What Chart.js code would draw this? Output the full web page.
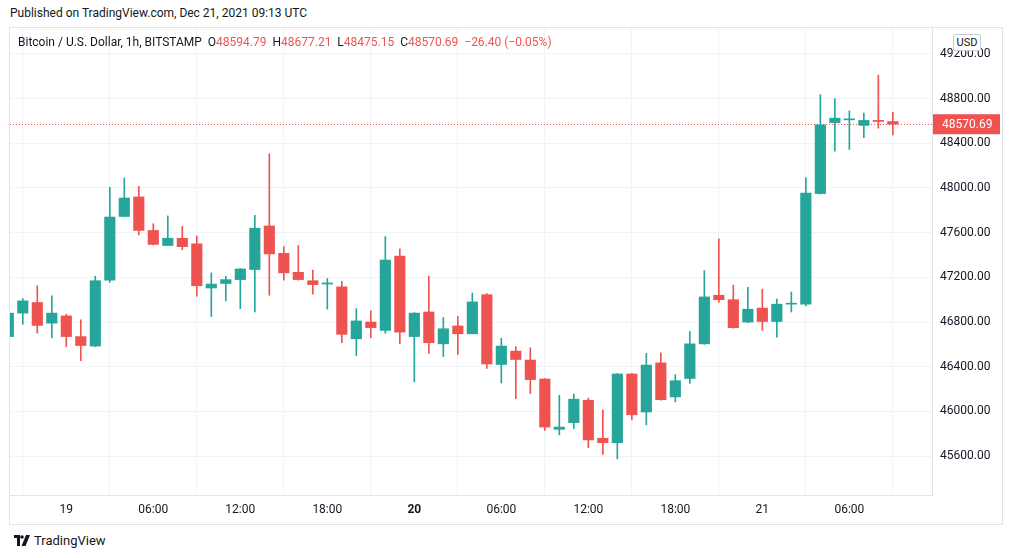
<!DOCTYPE html>
<html>
<head>
<meta charset="utf-8">
<script src="https://cdn.jsdelivr.net/npm/chart.js@4.4.0/dist/chart.umd.min.js"></script>
<style>
  body { margin: 0; background: #fff; width: 1012px; height: 558px; position: relative; overflow: hidden;
         font-family: Roboto, 'Liberation Sans', sans-serif; color: #131722; }
  #published { position: absolute; left: 10px; top: 6px; font-size: 12px; }
  #pane { position: absolute; left: 9px; top: 27px; width: 992px; height: 496px; border: 1px solid #e0e3eb; }
  #legend { position: absolute; left: 18px; top: 35px; font-size: 12px; white-space: pre; }
  #legend .v { color: #ef5350; }
  #usd { position: absolute; left: 953px; top: 34px; width: 26px; height: 15px; border: 1px solid #c9ccd4;
         background: #fff; font-size: 11px; line-height: 15px; text-align: center; border-radius: 2px; }
  #brand { position: absolute; left: 14px; top: 533px; font-size: 13px; display: flex; align-items: center; }
  #brand svg { margin-right: 4px; }
</style>
</head>
<body>
<div id="published">Published on TradingView.com, Dec 21, 2021 09:13 UTC</div>
<div id="pane"><canvas id="chart"></canvas></div>
<div id="legend">Bitcoin / U.S. Dollar, 1h, BITSTAMP  O<span class="v">48594.79</span>  H<span class="v">48677.21</span>  L<span class="v">48475.15</span>  C<span class="v">48570.69</span>  <span class="v">−26.40 (−0.05%)</span></div>
<div id="usd">USD</div>
<div id="brand">
  <svg width="16" height="11" viewBox="0 0 16 11"><path d="M0 0h6v11H3V3H0z" fill="#131722"/><circle cx="8" cy="2" r="1.8" fill="#131722"/><path d="M12 0h4l-4.5 11H7.5z" fill="#131722"/></svg>
  <span>TradingView</span>
</div>
<script>
// hourly candles, Dec 18 20:00 -> Dec 21 09:00 (BITSTAMP BTC/USD)
const opens = [46670, 46880, 46975, 46790, 46855, 46670, 46585, 47175, 47745, 47920,
  47620, 47485, 47550, 47500, 47105, 47145, 47180, 47270, 47660, 47415,
  47245, 47170, 47140, 47115, 46650, 46800, 46725, 47390, 46670, 46890,
  46605, 46765, 46695, 47045, 46420, 46540, 46460, 46290, 45840, 45900,
  46100, 45760, 45720, 46335, 45995, 46435, 46130, 46295, 46605, 47040,
  47000, 46800, 46925, 46805, 46960, 46960, 47950, 48585, 48610, 48560,
  48605, 48594.79];
const highs = [46890, 47010, 47125, 47035, 46870, 46820, 47210, 48005, 48090, 48015,
  47680, 47750, 47657, 47570, 47240, 47210, 47280, 47755, 48305, 47475,
  47485, 47265, 47190, 47165, 46920, 46900, 47565, 47455, 46885, 47210,
  46840, 46850, 47060, 47055, 46655, 46580, 46570, 46295, 46145, 46155,
  46120, 46015, 46340, 46340, 46520, 46525, 46330, 46715, 47260, 47545,
  47130, 47110, 47095, 47005, 47069, 48090, 48835, 48800, 48690, 48670,
  49010, 48677.21];
const lows = [46660, 46780, 46700, 46660, 46580, 46455, 46580, 47155, 47745, 47580,
  47490, 47485, 47448, 47031, 46850, 46990, 46920, 46890, 47040, 47175,
  47175, 47050, 46915, 46615, 46500, 46660, 46700, 46605, 46265, 46520,
  46490, 46510, 46695, 46385, 46255, 46115, 46160, 45830, 45790, 45845,
  45675, 45615, 45575, 45925, 45880, 46100, 46085, 46250, 46600, 46975,
  46745, 46795, 46725, 46665, 46890, 46945, 47945, 48330, 48345, 48450,
  48535, 48475.15];
const closes = [46880, 46990, 46770, 46880, 46670, 46590, 47170, 47740, 47910, 47620,
  47495, 47550, 47475, 47125, 47140, 47180, 47275, 47640, 47410, 47240,
  47180, 47135, 47150, 46690, 46810, 46750, 47355, 46710, 46880, 46615,
  46740, 46695, 46980, 46425, 46585, 46465, 46285, 45860, 45860, 46110,
  45745, 45720, 46335, 45970, 46415, 46105, 46275, 46605, 47025, 47000,
  46750, 46915, 46805, 46960, 46965, 47955, 48565, 48625, 48615, 48605,
  48595, 48570.69];

// x axis: candle index of each time label
const tickIdx = [4, 10, 16, 22, 28, 34, 40, 46, 52, 58];
const tickLabels = ['19', '06:00', '12:00', '18:00', '20', '06:00', '12:00', '18:00', '21', '06:00'];
const priceTicks = [45600, 46000, 46400, 46800, 47200, 47600, 48000, 48400, 48800, 49200];
const lastPrice = 48570.69;

const UP = '#26a69a';
const DOWN = '#ef5350';
const FONT = 'Roboto, "Liberation Sans", sans-serif';

const colors = opens.map((o, i) => closes[i] >= o ? UP : DOWN);
const bodies = opens.map((o, i) => ({ x: i, y: [o, closes[i]] }));
const wicks = lows.map((l, i) => ({ x: i, y: [l, highs[i]] }));

const priceLinePlugin = {
  id: 'priceLine',
  beforeDatasetsDraw(chart) {
    const { ctx, chartArea, scales } = chart;
    const y = Math.round(scales.y.getPixelForValue(lastPrice)) + 0.5;
    ctx.save();
    ctx.strokeStyle = DOWN;
    ctx.lineWidth = 1;
    ctx.setLineDash([1, 2]);
    ctx.beginPath();
    ctx.moveTo(chartArea.left, y);
    ctx.lineTo(chartArea.right, y);
    ctx.stroke();
    ctx.restore();
  },
  afterDraw(chart) {
    const { ctx, chartArea, scales } = chart;
    const y = scales.y.getPixelForValue(lastPrice);
    ctx.save();
    ctx.fillStyle = DOWN;
    ctx.fillRect(chartArea.right + 1, y - 10, 67, 20);
    ctx.fillStyle = '#fff';
    ctx.font = '12px ' + FONT;
    ctx.textBaseline = 'middle';
    ctx.fillText(lastPrice.toFixed(2), chartArea.right + 10, y + 0.5);
    ctx.restore();
  }
};

new Chart(document.getElementById('chart'), {
  type: 'bar',
  data: {
    datasets: [
      { data: wicks, backgroundColor: colors, barThickness: 1, grouped: false, order: 2 },
      { data: bodies, backgroundColor: colors, barThickness: 10.5, minBarLength: 1, grouped: false, order: 1 }
    ]
  },
  options: {
    responsive: true,
    maintainAspectRatio: false,
    animation: false,
    layout: { padding: 0 },
    plugins: { legend: { display: false }, tooltip: { enabled: false } },
    scales: {
      x: {
        type: 'linear',
        offset: false,
        min: 0.117,
        max: 63.7,
        afterBuildTicks: (axis) => { axis.ticks = tickIdx.map(v => ({ value: v })); },
        afterFit: (axis) => { axis.height = 29; axis.paddingLeft = 0; axis.paddingRight = 0; },
        grid: { color: '#f0f3fa', drawTicks: false },
        border: { color: '#e0e3eb' },
        ticks: {
          color: '#131722',
          padding: 8,
          maxRotation: 0,
          autoSkip: false,
          font: (c) => ({ family: FONT, size: 12, weight: c.tick && c.tick.value === 28 ? 'bold' : 'normal' }),
          callback: (v) => tickLabels[tickIdx.indexOf(v)]
        }
      },
      y: {
        position: 'right',
        min: 45252,
        max: 49432,
        afterBuildTicks: (axis) => { axis.ticks = priceTicks.map(v => ({ value: v })); },
        afterFit: (axis) => { axis.width = 70; axis.paddingTop = 0; axis.paddingBottom = 0; },
        grid: { color: '#f0f3fa', drawTicks: false },
        border: { color: '#e0e3eb' },
        ticks: {
          color: '#131722',
          padding: 8,
          font: { family: FONT, size: 12 },
          callback: (v) => v.toFixed(2)
        }
      }
    }
  },
  plugins: [priceLinePlugin]
});
</script>
</body>
</html>
